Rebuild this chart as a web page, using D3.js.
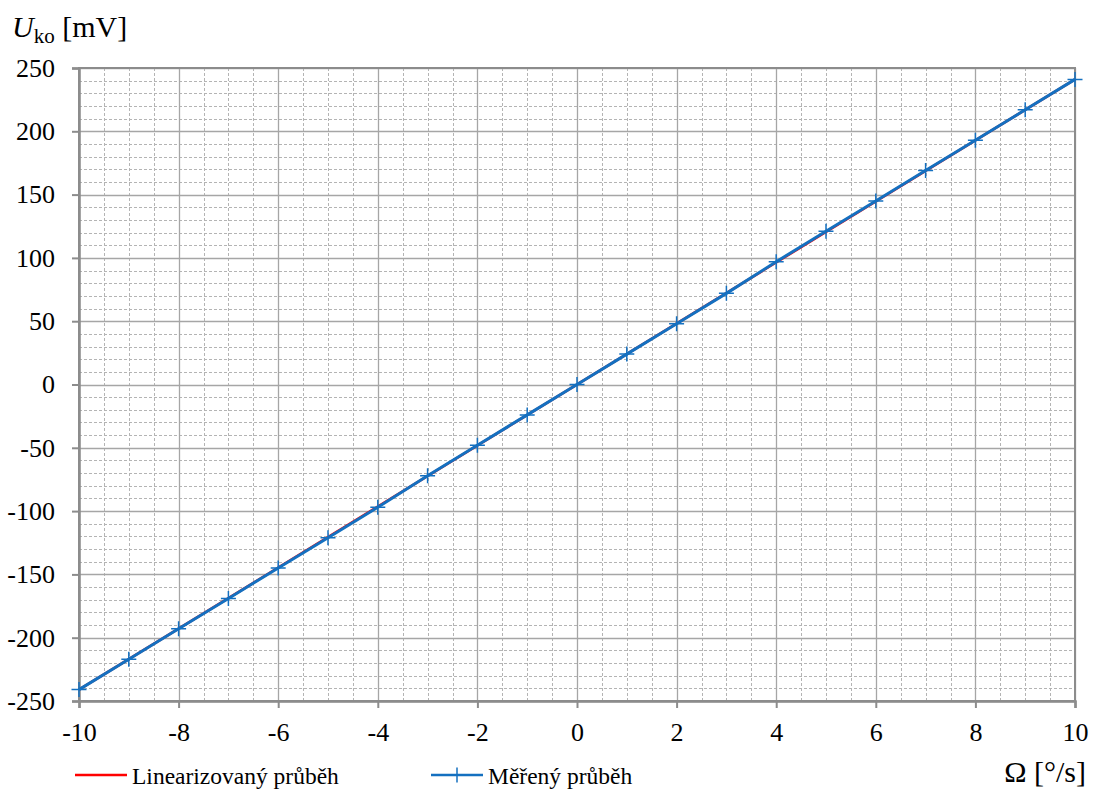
<!DOCTYPE html>
<html>
<head>
<meta charset="utf-8">
<script src="https://cdn.jsdelivr.net/npm/d3@7"></script>
<style>
  html, body { margin: 0; padding: 0; background: #fff; }
  svg { display: block; }
</style>
</head>
<body>
<svg id="chart" width="1094" height="791"></svg>
<script>
// Angular rate [°/s]
const omega = [-10, -9, -8, -7, -6, -5, -4, -3, -2, -1, 0, 1, 2, 3, 4, 5, 6, 7, 8, 9, 10];
// Measured output voltage [mV]
const measured = [-241, -217, -193, -169, -145, -121, -97, -72, -48, -24, 0, 24, 48, 72, 97, 121, 145, 169, 193, 217, 241];
// Linear fit through the measurement
const linearX = [-10, 10];
const linearY = [-241, 241];

const xTicks = [-10, -8, -6, -4, -2, 0, 2, 4, 6, 8, 10];
const yTicks = [-250, -200, -150, -100, -50, 0, 50, 100, 150, 200, 250];
const xMinor = d3.range(-10, 10.001, 0.5);
const yMinor = d3.range(-250, 250.001, 10);

const legendLabels = ["Linearizovaný průběh", "Měřený průběh"];
const colors = ["#ff0000", "#1470c0"];

const serif = "Liberation Serif";
const svg = d3.select("#chart");
const plotLeft = 79, plotRight = 1075, plotTop = 68, plotBottom = 701;

const x = d3.scaleLinear().domain([-10, 10]).range([plotLeft, plotRight]);
const y = d3.scaleLinear().domain([-250, 250]).range([plotBottom, plotTop]);

// minor grid (dashed)
const grid = svg.append("g");
grid.selectAll("line.vx").data(xMinor.filter(v => Math.abs(v % 2) > 1e-9))
  .join("line")
  .attr("x1", d => Math.round(x(d)) + 0.5).attr("x2", d => Math.round(x(d)) + 0.5)
  .attr("y1", plotTop).attr("y2", plotBottom)
  .attr("stroke", "#b4b4b4").attr("stroke-width", 1).attr("stroke-dasharray", "3,2");
grid.selectAll("line.hy").data(yMinor.filter(v => Math.abs(v % 50) > 1e-9))
  .join("line")
  .attr("y1", d => Math.round(y(d)) + 0.5).attr("y2", d => Math.round(y(d)) + 0.5)
  .attr("x1", plotLeft).attr("x2", plotRight)
  .attr("stroke", "#b4b4b4").attr("stroke-width", 1).attr("stroke-dasharray", "3,2");

// major grid (solid)
grid.selectAll("line.mx").data(xTicks)
  .join("line")
  .attr("x1", d => Math.round(x(d)) + 0.5).attr("x2", d => Math.round(x(d)) + 0.5)
  .attr("y1", plotTop).attr("y2", plotBottom)
  .attr("stroke", "#a6a6a6").attr("stroke-width", 1.3);
grid.selectAll("line.my").data(yTicks)
  .join("line")
  .attr("y1", d => Math.round(y(d)) + 0.5).attr("y2", d => Math.round(y(d)) + 0.5)
  .attr("x1", plotLeft).attr("x2", plotRight)
  .attr("stroke", "#a6a6a6").attr("stroke-width", 1.3);

// plot frame
svg.append("rect")
  .attr("x", plotLeft).attr("y", plotTop).attr("width", plotRight - plotLeft).attr("height", plotBottom - plotTop)
  .attr("fill", "none").attr("stroke", "#8c8c8c").attr("stroke-width", 2);

// axes
const fmt = d => d < 0 ? "-" + Math.abs(d) : String(d);
const xAxis = d3.axisBottom(x).tickValues(xTicks).tickSize(7).tickPadding(15).tickFormat(fmt);
const yAxis = d3.axisLeft(y).tickValues(yTicks).tickSize(7).tickPadding(17).tickFormat(fmt);

const gx = svg.append("g").attr("transform", `translate(0,${plotBottom})`).call(xAxis);
const gy = svg.append("g").attr("transform", `translate(${plotLeft},0)`).call(yAxis);
[gx, gy].forEach(g => {
  g.attr("font-family", serif).attr("font-size", 26);
  g.select(".domain").attr("stroke", "#8c8c8c").attr("stroke-width", 2.5);
  g.selectAll(".tick line").attr("stroke", "#8c8c8c").attr("stroke-width", 2);
  g.selectAll(".tick text").attr("fill", "#000").attr("font-family", serif).attr("font-size", 26);
});

// series
const line = d3.line().x(d => x(d[0])).y(d => y(d[1]));
svg.append("path").datum(linearX.map((v, i) => [v, linearY[i]]))
  .attr("d", line).attr("fill", "none").attr("stroke", colors[0]).attr("stroke-width", 2.5);
svg.append("path").datum(omega.map((v, i) => [v, measured[i]]))
  .attr("d", line).attr("fill", "none").attr("stroke", colors[1]).attr("stroke-width", 3);

const m = 7.5;
svg.append("g").selectAll("path").data(omega.map((v, i) => [v, measured[i]]))
  .join("path")
  .attr("d", d => `M${x(d[0]) - m},${y(d[1])}H${x(d[0]) + m}M${x(d[0])},${y(d[1]) - m}V${y(d[1]) + m}`)
  .attr("stroke", colors[1]).attr("stroke-width", 1.5).attr("fill", "none");

// axis titles
const yt = svg.append("text").attr("x", 12).attr("y", 37)
  .attr("font-family", serif).attr("font-size", 30).attr("fill", "#000");
yt.append("tspan").attr("font-style", "italic").text("U");
yt.append("tspan").attr("dy", 6).attr("font-size", 21).text("ko");
yt.append("tspan").attr("dy", -6).text(" [mV]");

svg.append("text").attr("x", 1086).attr("y", 782).attr("text-anchor", "end")
  .attr("font-family", serif).attr("font-size", 30).attr("fill", "#000").text("Ω [°/s]");

// legend
const legendX = [75, 431];
const lg = svg.append("g");
legendLabels.forEach((label, i) => {
  const g = lg.append("g").attr("transform", `translate(${legendX[i]},775)`);
  g.append("line").attr("x1", 0).attr("x2", 52).attr("y1", 0).attr("y2", 0)
    .attr("stroke", colors[i]).attr("stroke-width", 2.5);
  if (i === 1) {
    g.append("path").attr("d", "M18.5,0H33.5M26,-7.5V7.5").attr("stroke", colors[i]).attr("stroke-width", 1.5);
  }
  g.append("text").attr("x", 57).attr("y", 8.5)
    .attr("font-family", serif).attr("font-size", 23.5).attr("fill", "#000").text(label);
});
</script>
</body>
</html>
